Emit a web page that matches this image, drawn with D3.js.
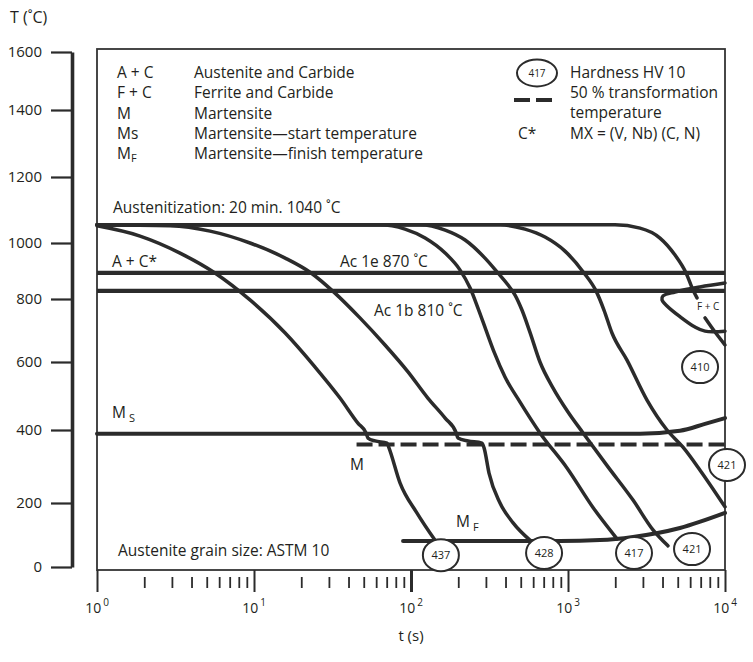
<!DOCTYPE html>
<html>
<head>
<meta charset="utf-8">
<script src="https://cdn.jsdelivr.net/npm/d3@7"></script>
<style>
  body { margin: 0; background: #fff; }
  svg text { font-family: "Open Sans", sans-serif; fill: #231f20; }
</style>
</head>
<body>
<div id="chart"></div>
<script>
// time in s, temperature in °C
const timeDecades = [1, 10, 100, 1000, 10000];
const tempTicks = [0, 200, 400, 600, 800, 1000, 1200, 1400, 1600];

const austenitizeT = 1055;
const ac1eT = 893;
const ac1bT = 829;
const halfT = 360;
const halfStart = 45;

const cool1 = [[1, 1052], [1.88, 1021], [3.38, 964], [5.64, 893], [9.43, 797], [15.8, 692], [24.5, 585],
  [35.3, 494], [45.9, 420], [51.7, 392], [53.2, 378], [59, 370], [70.4, 364], [72.4, 351], [85.1, 255],
  [109, 169], [142, 84]];
const cool2 = [[1, 1055], [2.92, 1052], [5.25, 1036], [9.43, 1000], [15.8, 946], [23.1, 893], [32.8, 821],
  [47.3, 740], [68.3, 654], [95.7, 571], [128, 494], [165, 435], [194, 392], [199, 378], [231, 370],
  [283, 364], [292, 351], [314, 282], [369, 200], [447, 138], [572, 84]];
const cool3 = [[1, 1055], [63.5, 1055], [91.6, 1042], [123, 1015], [165, 964], [205, 904], [238, 839],
  [267, 771], [300, 702], [338, 632], [397, 556], [495, 482], [663, 392], [985, 296], [1443, 186], [2053, 88]];
const cool4 = [[1, 1055], [114, 1055], [165, 1039], [221, 1009], [296, 946], [358, 893], [415, 850],
  [460, 814], [509, 765], [572, 695], [663, 600], [802, 524], [1000, 453], [1247, 392], [1798, 299],
  [2595, 208], [3478, 116], [4334, 66]];
const cool5 = [[1, 1055], [369, 1055], [532, 1042], [714, 1018], [957, 971], [1265, 893], [1508, 829],
  [1695, 765], [1906, 692], [2376, 606], [3186, 488], [4271, 400], [5400, 353], [6935, 290], [10000, 188]];
const cool6 = [[1, 1055], [1992, 1055], [2876, 1045], [3853, 1015], [4805, 957], [5650, 893],
  [6253, 832], [6634, 804]];
const cool6Tail = [[7460, 740], [8640, 695], [10000, 654]];

const ferriteStart = [[10000, 857], [6935, 843], [4805, 825], [4029, 811], [3970, 797], [4271, 778],
  [5168, 744], [6440, 711], [7460, 698], [10000, 698]];
const msLine = [[1, 390], [2876, 390], [5168, 398], [7460, 418], [10000, 435]];
const mfLine = [[89, 81], [890, 81], [1598, 84], [2595, 94], [5168, 122], [10000, 169]];

const hardnessValues = [437, 428, 417, 421, 421, 410];
const hardnessTimes = [155, 704, 2633, 6166, 10300, 6935];
const hardnessTemps = [37, 44, 44, 56, 304, 585];

const W = 753, H = 662;
const box = { left: 97, right: 725, top: 49, bottom: 570 };
const ink = "#2b2b2b";
const fs = 15.5;

const svg = d3.select("#chart").append("svg").attr("width", W).attr("height", H);

const x = d3.scaleLog().domain([1, 10000]).range([box.left, box.right]);
// the printed temperature axis is not evenly spaced
const y = d3.scaleLinear().domain(tempTicks).range([567, 503, 430, 362, 299, 243, 177, 110, 52]);

const smooth = d3.line().x(d => x(d[0])).y(d => y(d[1])).curve(d3.curveMonotoneX);
const loop = d3.line().x(d => x(d[0])).y(d => y(d[1])).curve(d3.curveCatmullRom.alpha(0.5));

// frame
svg.append("rect")
  .attr("x", box.left).attr("y", box.top)
  .attr("width", box.right - box.left).attr("height", box.bottom - box.top)
  .attr("fill", "none").attr("stroke", "#333").attr("stroke-width", 1.8);

// y axis
const yAxis = svg.append("g")
  .attr("transform", "translate(72,0)")
  .call(d3.axisLeft(y).tickValues(tempTicks).tickFormat(d3.format("d"))
    .tickSize(21).tickSizeOuter(0).tickPadding(9));
yAxis.select(".domain").attr("stroke", ink).attr("stroke-width", 3.6);
yAxis.selectAll(".tick line").attr("stroke", ink).attr("stroke-width", 2.2);
yAxis.selectAll(".tick text").style("font-size", "15px").attr("font-family", null);

// x axis: decades and minor ticks
const xMajor = svg.append("g")
  .attr("transform", `translate(0,${box.bottom})`)
  .call(d3.axisBottom(x).tickValues(timeDecades).tickSize(22).tickSizeOuter(0).tickFormat(""));
xMajor.select(".domain").remove();
xMajor.selectAll(".tick line").attr("stroke", ink).attr("stroke-width", d => d === 100 ? 3 : 2);

const minor = x.ticks().filter(d => !timeDecades.includes(d));
const xMinor = svg.append("g")
  .attr("transform", `translate(0,${box.bottom + 7})`)
  .call(d3.axisBottom(x).tickValues(minor).tickSize(11).tickSizeOuter(0).tickFormat(""));
xMinor.select(".domain").remove();
xMinor.selectAll(".tick line").attr("stroke", ink).attr("stroke-width", 1.8);

const xl = svg.append("g").selectAll("text").data(timeDecades).join("text")
  .attr("x", d => x(d)).attr("y", 613)
  .attr("text-anchor", "middle").style("font-size", "14px");
xl.append("tspan").text("10");
xl.append("tspan").attr("dy", -7).attr("dx", 2).style("font-size", "10px").text(d => Math.round(Math.log10(d)));

svg.append("text").attr("x", (box.left + box.right) / 2).attr("y", 641)
  .attr("text-anchor", "middle").style("font-size", "15px").text("t (s)");
svg.append("text").attr("x", 10).attr("y", 23).style("font-size", "16px").text("T (˚C)");

// horizontal reference lines
const g = svg.append("g").attr("fill", "none").attr("stroke", ink).attr("stroke-linecap", "round");
[ac1eT, ac1bT].forEach(T => {
  g.append("line").attr("x1", box.left).attr("x2", box.right)
    .attr("y1", y(T)).attr("y2", y(T)).attr("stroke-width", 4.2).attr("stroke-linecap", "butt");
});
g.append("path").attr("d", smooth(msLine)).attr("stroke-width", 4);
g.append("path").attr("d", smooth(mfLine)).attr("stroke-width", 4);
g.append("line").attr("x1", x(halfStart)).attr("x2", box.right)
  .attr("y1", y(halfT)).attr("y2", y(halfT))
  .attr("stroke-width", 4).attr("stroke-linecap", "butt").attr("stroke-dasharray", "16,6");

// cooling curves
[cool1, cool2, cool3, cool4, cool5, cool6, cool6Tail].forEach(c => {
  g.append("path").attr("d", smooth(c)).attr("stroke-width", 3.5);
});
g.append("path").attr("d", loop(ferriteStart)).attr("stroke-width", 3.5);

// hardness marks
const hard = svg.append("g").selectAll("g").data(hardnessValues).join("g")
  .attr("transform", (d, i) => `translate(${x(hardnessTimes[i])},${y(hardnessTemps[i])})`);
hard.append("ellipse").attr("rx", 18).attr("ry", 16)
  .attr("fill", "#fff").attr("stroke", ink).attr("stroke-width", 2);
hard.append("text").attr("text-anchor", "middle").attr("dy", 4).style("font-size", "11px").text(d => d);

// annotations
function label(tx, ty, str, size) {
  return svg.append("text").attr("x", tx).attr("y", ty).style("font-size", (size || fs) + "px").text(str);
}
label(113, 213, "Austenitization:  20 min. 1040 ˚C");
label(112, 267, "A + C*");
label(340, 267, "Ac 1e 870 ˚C");
label(374, 316, "Ac 1b 810 ˚C");
const ms = label(112, 418, "M");
ms.append("tspan").attr("dx", 3).attr("dy", 4).style("font-size", "11px").text("S");
label(350, 470, "M");
const mf = label(456, 527, "M");
mf.append("tspan").attr("dx", 3).attr("dy", 4).style("font-size", "11px").text("F");
label(118, 556, "Austenite grain size:  ASTM 10");
label(697, 310, "F + C", 10);

// legend
const legL = ["A + C", "F + C", "M", "Ms", "M"];
const legR = ["Austenite and Carbide", "Ferrite and Carbide", "Martensite",
  "Martensite—start temperature", "Martensite—finish temperature"];
legL.forEach((s, i) => {
  const t = label(117, 78 + i * 20.3, s);
  if (i === 4) t.append("tspan").attr("dy", 3).style("font-size", "11px").text("F");
  label(194, 78 + i * 20.3, legR[i]);
});
svg.append("ellipse").attr("cx", 537).attr("cy", 73).attr("rx", 20).attr("ry", 13.5)
  .attr("fill", "none").attr("stroke", ink).attr("stroke-width", 2);
svg.append("text").attr("x", 537).attr("y", 77).attr("text-anchor", "middle")
  .style("font-size", "10px").text("417");
svg.append("line").attr("x1", 514).attr("x2", 552).attr("y1", 100).attr("y2", 100)
  .attr("stroke", ink).attr("stroke-width", 4).attr("stroke-dasharray", "16,6");
label(570, 78, "Hardness HV 10");
label(570, 98, "50 % transformation");
label(570, 118, "temperature");
label(518, 139, "C*");
label(570, 139, "MX = (V, Nb) (C, N)");
</script>
</body>
</html>
